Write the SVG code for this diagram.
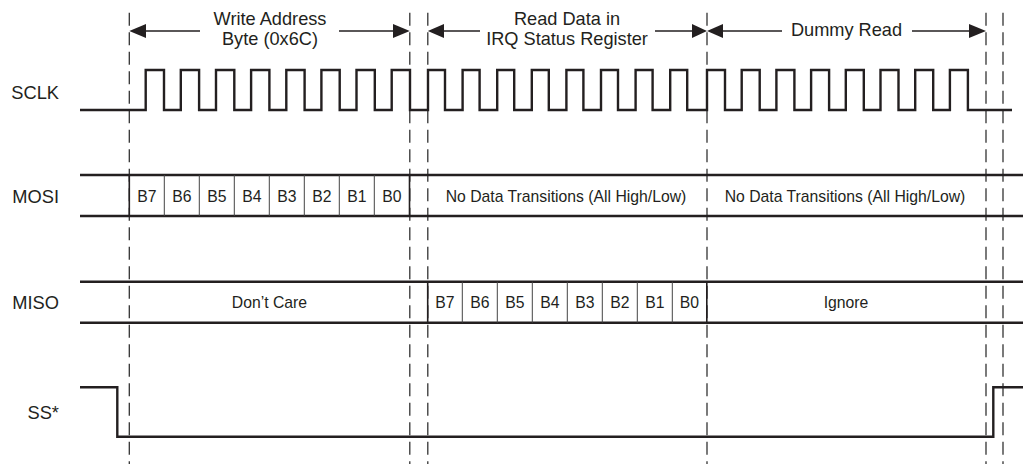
<svg xmlns="http://www.w3.org/2000/svg" width="1023" height="464" viewBox="0 0 1023 464">
<style>
.sig{fill:none;stroke:#231f20;stroke-width:2.4;stroke-linejoin:miter}
.dash{fill:none;stroke:#333;stroke-width:1.3;stroke-dasharray:13 6.5}
.div{stroke:#444;stroke-width:1}
.bnd{stroke:#231f20;stroke-width:1.6}
.lbl{font-family:"Liberation Sans",Arial,sans-serif;font-size:18.3px;fill:#231f20}
.sm{font-family:"Liberation Sans",Arial,sans-serif;font-size:15.75px;fill:#231f20;text-anchor:middle}
.hd{font-family:"Liberation Sans",Arial,sans-serif;font-size:18.2px;fill:#231f20;text-anchor:middle}
.al{stroke:#231f20;stroke-width:1.3}
.ah{fill:#231f20}
</style>
<rect width="1023" height="464" fill="#fff"/>
<g id="guides">
<line class="dash" x1="129.3" y1="12.7" x2="129.3" y2="464"/>
<line class="dash" x1="409.8" y1="12.7" x2="409.8" y2="464"/>
<line class="dash" x1="427.8" y1="12.7" x2="427.8" y2="464"/>
<line class="dash" x1="707" y1="12.7" x2="707" y2="464"/>
<line class="dash" x1="986" y1="12.7" x2="986" y2="464"/>
<line class="dash" x1="1003" y1="12.7" x2="1003" y2="464"/>
</g>
<g id="labels">
<text class="lbl" x="59" y="98.5" text-anchor="end">SCLK</text>
<text class="lbl" x="59" y="203" text-anchor="end">MOSI</text>
<text class="lbl" x="59" y="308.5" text-anchor="end">MISO</text>
<text class="lbl" x="59" y="418.5" text-anchor="end">SS*</text>
</g>
<g id="header-write">
<text class="hd" x="270" y="25">Write Address</text>
<text class="hd" x="270" y="45">Byte (0x6C)</text>
<line class="al" x1="145" y1="31" x2="200" y2="31"/>
<polygon class="ah" points="129.3,31 146,24 146,38"/>
<line class="al" x1="339" y1="31" x2="394" y2="31"/>
<polygon class="ah" points="409.8,31 393,24 393,38"/>
</g>
<g id="header-read">
<text class="hd" x="567" y="25">Read Data in</text>
<text class="hd" x="567" y="45">IRQ Status Register</text>
<line class="al" x1="443" y1="31" x2="480" y2="31"/>
<polygon class="ah" points="427.8,31 444,24 444,38"/>
<line class="al" x1="655" y1="31" x2="693" y2="31"/>
<polygon class="ah" points="707,31 692,24 692,38"/>
</g>
<g id="header-dummy">
<text class="hd" x="846.5" y="35.5">Dummy Read</text>
<line class="al" x1="722" y1="31" x2="782" y2="31"/>
<polygon class="ah" points="707,31 723,24 723,38"/>
<line class="al" x1="912" y1="31" x2="970" y2="31"/>
<polygon class="ah" points="986,31 969,24 969,38"/>
</g>
<g id="sclk">
<path class="sig" d="M80,110 H145.7 V70 H164 V110 H180.8 V70 H199.1 V110 H216 V70 H234.3 V110 H251.1 V70 H269.4 V110 H286.3 V70 H304.6 V110 H321.4 V70 H339.7 V110 H356.5 V70 H374.8 V110 H391.7 V70 H410 V110 H428 V70 H445 V110 H462.6 V70 H479.6 V110 H497.2 V70 H514.2 V110 H531.8 V70 H548.8 V110 H566.4 V70 H583.4 V110 H601 V70 H618 V110 H635.6 V70 H652.6 V110 H670.2 V70 H687.2 V110 H707 V70 H725 V110 H741.7 V70 H759.7 V110 H776.4 V70 H794.4 V110 H811.1 V70 H829.1 V110 H845.8 V70 H863.8 V110 H880.5 V70 H898.5 V110 H915.2 V70 H933.2 V110 H949.9 V70 H967.9 V110 H1012"/>
</g>
<g id="mosi">
<line class="sig" x1="80" y1="175" x2="1023" y2="175"/>
<line class="sig" x1="80" y1="216" x2="1023" y2="216"/>
<line class="bnd" x1="129.3" y1="175" x2="129.3" y2="216"/>
<line class="div" x1="164.3" y1="175" x2="164.3" y2="216"/>
<line class="div" x1="199.3" y1="175" x2="199.3" y2="216"/>
<line class="div" x1="234.3" y1="175" x2="234.3" y2="216"/>
<line class="div" x1="269.3" y1="175" x2="269.3" y2="216"/>
<line class="div" x1="304.3" y1="175" x2="304.3" y2="216"/>
<line class="div" x1="339.3" y1="175" x2="339.3" y2="216"/>
<line class="div" x1="374.3" y1="175" x2="374.3" y2="216"/>
<line class="bnd" x1="409.5" y1="175" x2="409.5" y2="216"/>
<text class="sm" x="146.8" y="202">B7</text>
<text class="sm" x="181.8" y="202">B6</text>
<text class="sm" x="216.8" y="202">B5</text>
<text class="sm" x="251.8" y="202">B4</text>
<text class="sm" x="286.8" y="202">B3</text>
<text class="sm" x="321.8" y="202">B2</text>
<text class="sm" x="356.8" y="202">B1</text>
<text class="sm" x="391.8" y="202">B0</text>
<text class="sm" x="566" y="201.5">No Data Transitions (All High/Low)</text>
<text class="sm" x="845" y="201.5">No Data Transitions (All High/Low)</text>
</g>
<g id="miso">
<line class="sig" x1="80" y1="281.7" x2="1023" y2="281.7"/>
<line class="sig" x1="80" y1="322.7" x2="1023" y2="322.7"/>
<line class="bnd" x1="427.7" y1="281.7" x2="427.7" y2="322.7"/>
<line class="div" x1="462.3" y1="281.7" x2="462.3" y2="322.7"/>
<line class="div" x1="497.3" y1="281.7" x2="497.3" y2="322.7"/>
<line class="div" x1="532.3" y1="281.7" x2="532.3" y2="322.7"/>
<line class="div" x1="567.3" y1="281.7" x2="567.3" y2="322.7"/>
<line class="div" x1="602.3" y1="281.7" x2="602.3" y2="322.7"/>
<line class="div" x1="637.3" y1="281.7" x2="637.3" y2="322.7"/>
<line class="div" x1="672.3" y1="281.7" x2="672.3" y2="322.7"/>
<line class="bnd" x1="706.8" y1="281.7" x2="706.8" y2="322.7"/>
<text class="sm" x="269.5" y="308">Don’t Care</text>
<text class="sm" x="445" y="308">B7</text>
<text class="sm" x="479.8" y="308">B6</text>
<text class="sm" x="514.8" y="308">B5</text>
<text class="sm" x="549.8" y="308">B4</text>
<text class="sm" x="584.8" y="308">B3</text>
<text class="sm" x="619.8" y="308">B2</text>
<text class="sm" x="654.8" y="308">B1</text>
<text class="sm" x="689.5" y="308">B0</text>
<text class="sm" x="846" y="308">Ignore</text>
</g>
<g id="ss">
<path class="sig" d="M80,387.3 H117.3 V436.7 H993.3 V387.3 H1023"/>
</g>
</svg>
